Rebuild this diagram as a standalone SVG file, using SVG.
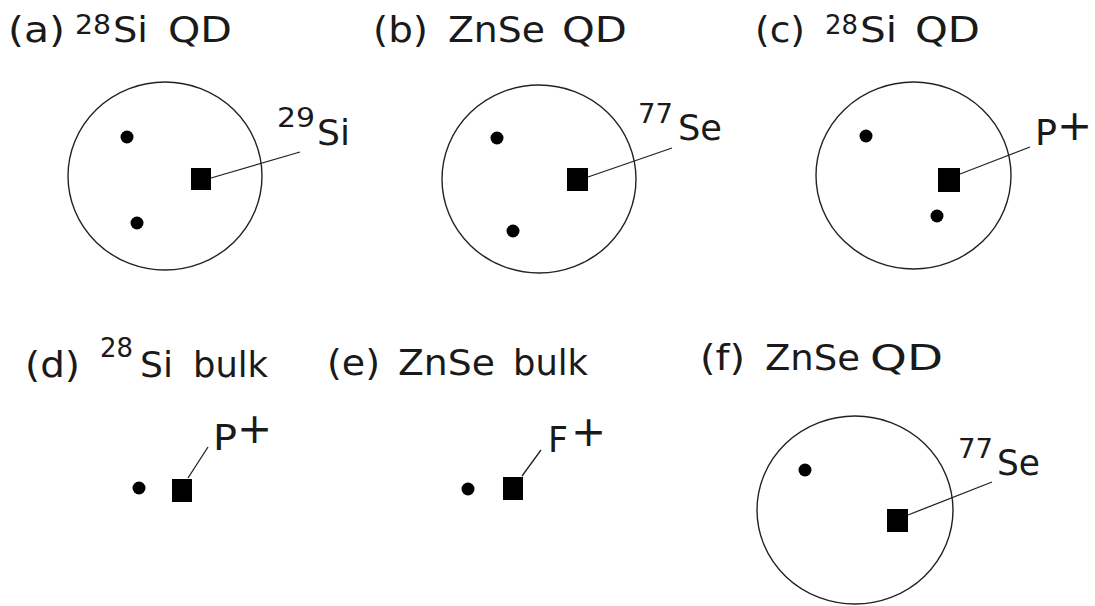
<svg xmlns="http://www.w3.org/2000/svg" width="1095" height="606" viewBox="0 0 1095 606">
  <style>
    text { font-family: "DejaVu Sans", "Liberation Sans", sans-serif; fill: #1a1a1a; }
    .m { font-size: 36px; }
    .s { font-size: 26px; }
    .pl { font-size: 42px; }
    .qd { fill: none; stroke: #222; stroke-width: 1.4; }
    .dot { fill: #000; }
    .sq { fill: #000; }
    .ln { stroke: #222; stroke-width: 1.3; fill: none; }
  </style>
  <rect width="1095" height="606" fill="#fff"/>

  <g id="panel-a">
    <text class="m" x="8" y="42" textLength="57" lengthAdjust="spacingAndGlyphs">(a)</text>
    <text class="s" x="75" y="34" textLength="36" lengthAdjust="spacingAndGlyphs">28</text>
    <text class="m" x="113" y="42" textLength="35" lengthAdjust="spacingAndGlyphs">Si</text>
    <text class="m" x="168" y="42" textLength="64" lengthAdjust="spacingAndGlyphs">QD</text>
    <ellipse class="qd" cx="165" cy="176" rx="97" ry="94"/>
    <circle class="dot" cx="127" cy="137" r="6.5"/>
    <circle class="dot" cx="137" cy="223" r="6.5"/>
    <rect class="sq" x="191" y="168" width="20" height="22"/>
    <text class="s" x="277" y="127" textLength="38" lengthAdjust="spacingAndGlyphs">29</text>
    <text class="m" x="317" y="145" textLength="33" lengthAdjust="spacingAndGlyphs">Si</text>
  </g>

  <g id="panel-b">
    <text class="m" x="373" y="42" textLength="55" lengthAdjust="spacingAndGlyphs">(b)</text>
    <text class="m" x="448" y="42" textLength="97" lengthAdjust="spacingAndGlyphs">ZnSe</text>
    <text class="m" x="562" y="42" textLength="65" lengthAdjust="spacingAndGlyphs">QD</text>
    <ellipse class="qd" cx="539" cy="179" rx="97" ry="94"/>
    <circle class="dot" cx="497" cy="138" r="6.5"/>
    <circle class="dot" cx="513" cy="231" r="6.5"/>
    <rect class="sq" x="567" y="168" width="21" height="23"/>
    <text class="s" x="638" y="123" textLength="35" lengthAdjust="spacingAndGlyphs">77</text>
    <text class="m" x="678" y="140" textLength="44" lengthAdjust="spacingAndGlyphs">Se</text>
  </g>

  <g id="panel-c">
    <text class="m" x="755" y="42" textLength="50" lengthAdjust="spacingAndGlyphs">(c)</text>
    <text class="s" x="825" y="34" textLength="33" lengthAdjust="spacingAndGlyphs">28</text>
    <text class="m" x="860" y="42" textLength="37" lengthAdjust="spacingAndGlyphs">Si</text>
    <text class="m" x="915" y="42" textLength="65" lengthAdjust="spacingAndGlyphs">QD</text>
    <ellipse class="qd" cx="913.5" cy="175.5" rx="97.5" ry="93.5"/>
    <circle class="dot" cx="866" cy="136" r="6.5"/>
    <circle class="dot" cx="937" cy="216" r="6.5"/>
    <rect class="sq" x="938" y="168" width="22" height="24"/>
    <text class="m" x="1035" y="145" textLength="22" lengthAdjust="spacingAndGlyphs">P</text>
    <text class="pl" x="1057" y="140">+</text>
  </g>

  <g id="panel-d">
    <text class="m" x="25" y="377" textLength="55" lengthAdjust="spacingAndGlyphs">(d)</text>
    <text class="s" x="100" y="357" textLength="33" lengthAdjust="spacingAndGlyphs">28</text>
    <text class="m" x="140" y="377" textLength="33" lengthAdjust="spacingAndGlyphs">Si</text>
    <text class="m" x="193" y="377" textLength="75" lengthAdjust="spacingAndGlyphs">bulk</text>
    <circle class="dot" cx="139" cy="488" r="6.5"/>
    <rect class="sq" x="172" y="479" width="20" height="23"/>
    <text class="m" x="213" y="450" textLength="24" lengthAdjust="spacingAndGlyphs">P</text>
    <text class="pl" x="237" y="443">+</text>
  </g>

  <g id="panel-e">
    <text class="m" x="327" y="375" textLength="53" lengthAdjust="spacingAndGlyphs">(e)</text>
    <text class="m" x="398" y="375" textLength="97" lengthAdjust="spacingAndGlyphs">ZnSe</text>
    <text class="m" x="513" y="375" textLength="75" lengthAdjust="spacingAndGlyphs">bulk</text>
    <circle class="dot" cx="468" cy="489" r="6.5"/>
    <rect class="sq" x="503" y="477" width="20" height="23"/>
    <text class="m" x="548" y="452" textLength="20" lengthAdjust="spacingAndGlyphs">F</text>
    <text class="pl" x="571" y="446">+</text>
  </g>

  <g id="panel-f">
    <text class="m" x="700" y="370" textLength="45" lengthAdjust="spacingAndGlyphs">(f)</text>
    <text class="m" x="765" y="370" textLength="95" lengthAdjust="spacingAndGlyphs">ZnSe</text>
    <text class="m" x="870" y="370" textLength="73" lengthAdjust="spacingAndGlyphs">QD</text>
    <ellipse class="qd" cx="855" cy="510" rx="98" ry="94"/>
    <circle class="dot" cx="805" cy="470" r="6.5"/>
    <rect class="sq" x="887" y="509" width="21" height="23"/>
    <text class="s" x="958" y="458" textLength="35" lengthAdjust="spacingAndGlyphs">77</text>
    <text class="m" x="997" y="475" textLength="43" lengthAdjust="spacingAndGlyphs">Se</text>
  </g>

  <g id="connectors">
    <line class="ln" x1="211" y1="178" x2="300" y2="152"/>
    <line class="ln" x1="588" y1="177" x2="672" y2="148"/>
    <line class="ln" x1="960" y1="174" x2="1030" y2="147"/>
    <line class="ln" x1="188" y1="478" x2="208" y2="447"/>
    <line class="ln" x1="522" y1="476" x2="541" y2="450"/>
    <line class="ln" x1="908" y1="515" x2="992" y2="482"/>
  </g>
</svg>
